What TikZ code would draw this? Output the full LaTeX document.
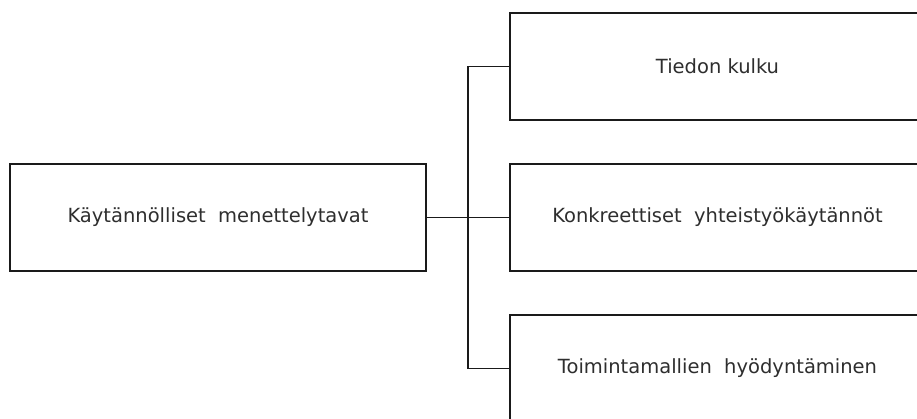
\documentclass[tikz,border=0pt]{standalone}
\usepackage{fontspec}
\setmainfont{DejaVu Sans}
\definecolor{txtgray}{HTML}{2E2E2E}
\definecolor{linegray}{HTML}{1A1A1A}
\begin{document}
\begin{tikzpicture}[x=1pt,y=-1pt,
  boxnode/.style={draw=linegray, line width=1.3pt, rectangle, minimum height=107pt, inner sep=0pt,
    text=txtgray, font=\fontsize{19.5}{23}\selectfont},
  leftbox/.style={boxnode, minimum width=416pt},
  rightbox/.style={boxnode, minimum width=415pt},
  link/.style={draw=linegray, line width=1.3pt}]
\useasboundingbox (0,0) rectangle (917,419);
\clip (0,0) rectangle (917,419);
\node[leftbox] (L) at (218,217.5) {Käytännölliset\ \ menettelytavat};
\node[rightbox] (A) at (717.5,66.5) {Tiedon kulku};
\node[rightbox] (B) at (717.5,217.5) {Konkreettiset\ \ yhteistyökäytännöt};
\node[rightbox] (C) at (717.5,368.5) {Toimintamallien\ \ hyödyntäminen};
\coordinate (j) at (468,217.5);
\draw[link] (L.east) -- (B.west);
\draw[link] (A.west) -| (j) |- (C.west);
\end{tikzpicture}
\end{document}
